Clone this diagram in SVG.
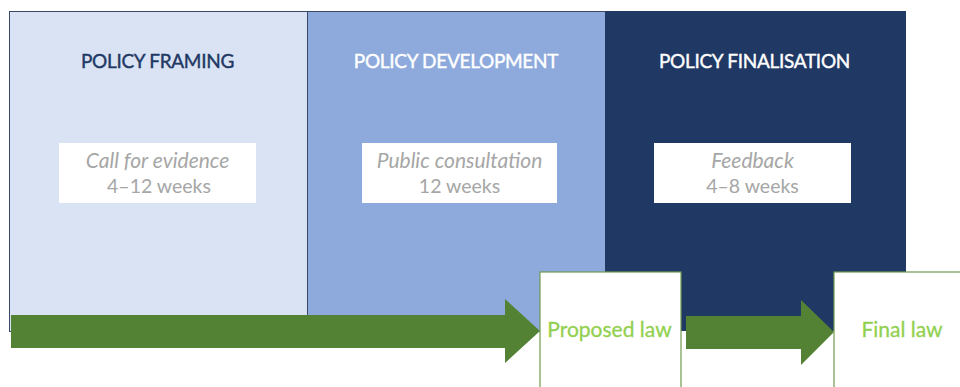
<svg xmlns="http://www.w3.org/2000/svg" width="960" height="387" viewBox="0 0 960 387">
<style>
.title{font-family:Lato,"Open Sans",sans-serif;font-size:19px;text-anchor:middle;letter-spacing:-0.3px;stroke-width:0.4}
.box{fill:#ffffff}
.it{font-family:Lato,"Open Sans",sans-serif;font-size:21px;font-style:italic;fill:#a6a6a6;text-anchor:middle}
.nm{font-family:Lato,"Open Sans",sans-serif;font-size:19.5px;fill:#a6a6a6;text-anchor:middle}
.law{fill:#ffffff;stroke:#6f9a50;stroke-width:1.2}
.lawt{font-family:Lato,"Open Sans",sans-serif;font-size:21px;fill:#92d050;stroke:#92d050;stroke-width:0.3;text-anchor:middle}
.arrow{fill:#548235}
</style>
<rect width="960" height="387" fill="#ffffff"/>
<g id="policy-framing">
<rect x="9.5" y="11.5" width="298" height="320" fill="#d9e3f3" stroke="#3a4a66" stroke-width="1"/>
<text class="title" x="157.5" y="68" fill="#1f3864" stroke="#1f3864">POLICY FRAMING</text>
<rect class="box" x="59" y="143" width="197" height="60"/>
<text class="it" x="157.5" y="168">Call for evidence</text>
<text class="nm" x="159" y="193">4–12 weeks</text>
</g>
<g id="policy-development">
<rect x="307.5" y="11.5" width="298" height="320" fill="#8eaadc" stroke="#3a4a66" stroke-width="1"/>
<text class="title" x="456" y="68" fill="#ffffff" stroke="#ffffff">POLICY DEVELOPMENT</text>
<rect class="box" x="362" y="143" width="195" height="60"/>
<text class="it" x="459.5" y="168">Public consultation</text>
<text class="nm" x="459.5" y="193">12 weeks</text>
</g>
<g id="policy-finalisation">
<rect x="605" y="11" width="301" height="320" fill="#1f3864"/>
<text class="title" x="754.5" y="68" fill="#ffffff" stroke="#ffffff">POLICY FINALISATION</text>
<rect class="box" x="654" y="143" width="197" height="60"/>
<text class="it" x="752.5" y="168">Feedback</text>
<text class="nm" x="752.5" y="193">4–8 weeks</text>
</g>
<g id="connectors">
<polygon class="arrow" points="11,315 505,315 505,299 540,331 505,363 505,348 11,348"/>
<polygon class="arrow" points="686,316 801,316 801,300 834,332 801,365 801,349 686,349"/>
</g>
<g id="proposed-law">
<rect class="law" x="540" y="272" width="141" height="120"/>
<text class="lawt" x="609.5" y="337">Proposed law</text>
</g>
<g id="final-law">
<rect class="law" x="834" y="272" width="140" height="120"/>
<text class="lawt" x="902" y="337">Final law</text>
</g>
</svg>
